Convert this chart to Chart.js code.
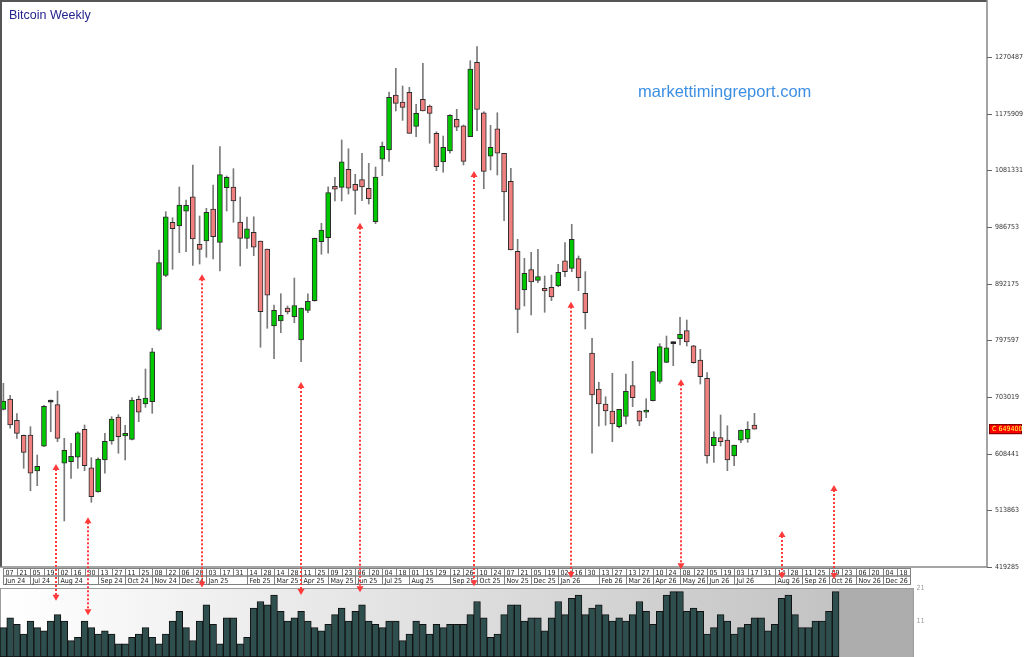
<!DOCTYPE html>
<html>
<head>
<meta charset="utf-8">
<title>Bitcoin Weekly</title>
<script src="https://cdn.jsdelivr.net/npm/chart.js@4.4.1/dist/chart.umd.min.js"></script>
<style>
  html, body { margin: 0; padding: 0; background: #fff; overflow: hidden; }
  #wrap { position: relative; width: 1024px; height: 657px; }
</style>
</head>
<body>
<div id="wrap"><canvas id="btc" width="1024" height="657"></canvas></div>
<script>
// weekly candles, one per week starting 07 Jun 24
const opens = [682500,699700,664100,639100,639600,579500,620800,694500,690200,592400,595000,602400,649100,585000,544500,597900,629600,669600,637900,632400,699200,691300,695200,816000,906100,994600,988400,1013000,1037300,957900,963400,1016800,961200,1052400,1053500,995100,967900,977900,963400,950000,821500,829900,851600,837100,798200,847700,863800,962200,968900,1054700,1053000,1083100,1058000,1065700,1051400,995600,1099800,1115300,1207100,1195400,1211600,1154800,1199900,1188700,1143100,1095200,1113600,1166500,1155800,1137500,1261600,1177500,1104800,1150800,1109800,1063000,946200,881600,915500,897800,884500,886100,888300,930500,917800,933900,876100,776500,716400,691300,679700,653500,670800,721900,679700,677500,696800,729200,760900,792000,800300,813700,788600,764800,734200,621800,635100,631200,604600,630800,632900,656300];
const highs = [725900,705900,675200,639600,653500,606200,689200,698000,713000,634100,625800,645100,656300,601700,601700,642400,670200,673500,655800,701900,704700,749800,784300,948400,1012300,1002300,1053500,1031800,1090200,1005100,1018000,1056900,1120800,1071900,1084100,1036800,1003400,1003900,963400,950000,856600,875400,854900,901600,851600,875400,968400,992900,1054000,1069700,1132000,1117400,1074700,1109800,1093100,1086900,1128600,1212100,1251600,1222100,1219900,1191500,1260000,1190400,1145800,1138600,1174200,1183200,1157000,1264300,1287700,1179200,1156500,1177500,1109800,1084700,966200,934500,944500,949500,905000,906600,924500,960600,991300,938400,912200,801000,727600,703500,742600,682500,741400,762600,680200,700200,745900,792000,804800,795300,836000,831500,789300,782600,743600,645100,673000,655100,622900,648000,661800,675800];
const lows = [681300,650800,634100,584000,546600,555000,620100,645100,628400,496100,567300,584000,580000,527300,544000,575700,624100,609100,597900,631200,661800,685800,675800,813200,903800,916200,943900,945500,922800,925000,936200,933300,913300,1013500,994600,921700,951200,938900,786000,817700,767000,810300,841600,827000,761900,843700,862800,941200,942900,1030200,1030200,1041800,1008000,1030700,1025100,992300,1072400,1096400,1180400,1164800,1143100,1137500,1180400,1126500,1080700,1078100,1109800,1147500,1090200,1137500,1147500,1050700,1081900,1073500,997300,948400,810300,854900,839900,893800,844400,863800,887100,903800,912200,880400,816500,609100,654600,655800,628400,651300,658000,686800,655100,668500,696300,725900,760300,755300,789800,788100,759300,724700,592400,594000,621200,580000,588400,626700,627400,649400];
const closes = [696400,656300,642400,610700,575700,587400,687500,694500,634100,614100,604100,643400,588400,536600,599500,629100,666300,636800,642400,698000,677500,701400,778600,927200,1003900,983900,1023500,1023000,966700,949500,1011300,970600,1074100,1069700,1030200,967900,983900,952900,845400,872800,847700,839400,844900,855400,851600,862800,967900,981800,1044000,1049700,1095700,1051400,1048000,1053500,1034000,1070200,1121400,1203200,1193200,1186500,1143100,1176500,1180400,1176500,1087400,1119800,1173200,1153200,1096400,1250500,1183200,1079700,1119800,1109800,1045200,948400,849400,909500,895000,903800,879900,869900,911200,912200,966200,902100,843700,706400,691300,679700,658000,682500,712500,701900,662500,681300,745300,787000,785300,792000,807700,794800,760300,736900,604600,635800,628400,597900,622900,648000,649100,649400];
// lower panel histogram
const volumes = [9,12,10,7,11,9,8,11,13,11,5,6,11,9,7,8,7,4,4,6,7,9,6,4,7,11,14,9,5,11,16,10,4,12,12,4,6,15,17,16,19,14,11,12,14,11,9,8,10,13,15,11,14,16,11,10,9,11,11,5,7,11,10,7,10,9,10,10,10,13,17,12,6,7,13,16,16,11,12,12,8,12,17,13,18,19,13,15,16,13,11,12,11,13,17,14,10,14,19,20,20,14,15,14,7,9,13,11,7,9,10,12,12,8,10,18,19,13,9,9,11,11,14,20];

const priceTicks = [419285,513863,608441,703019,797597,892175,986753,1081331,1175909,1270487];
const volumeTicks = [21, 11];
const lastPrice = 649400;
// bi-weekly axis labels (every second week)
const tickDates = ['07 Jun 24','21 Jun 24','05 Jul 24','19 Jul 24','02 Aug 24','16 Aug 24','30 Aug 24','13 Sep 24','27 Sep 24','11 Oct 24','25 Oct 24','08 Nov 24','22 Nov 24','06 Dec 24','20 Dec 24',
  '03 Jan 25','17 Jan 25','31 Jan 25','14 Feb 25','28 Feb 25','14 Mar 25','28 Mar 25','11 Apr 25','25 Apr 25','09 May 25','23 May 25','06 Jun 25','20 Jun 25','04 Jul 25','18 Jul 25','01 Aug 25','15 Aug 25','29 Aug 25','12 Sep 25','26 Sep 25','10 Oct 25','24 Oct 25','07 Nov 25','21 Nov 25','05 Dec 25','19 Dec 25',
  '02 Jan 26','16 Jan 26','30 Jan 26','13 Feb 26','27 Feb 26','13 Mar 26','27 Mar 26','10 Apr 26','24 Apr 26','08 May 26','22 May 26','05 Jun 26','19 Jun 26','03 Jul 26','17 Jul 26','31 Jul 26','14 Aug 26','28 Aug 26','11 Sep 26','25 Sep 26','09 Oct 26','23 Oct 26','06 Nov 26','20 Nov 26','04 Dec 26','18 Dec 26'];
// red dotted markers: week position, price at top tip, lower-panel value at bottom tip
const arrowWeeks = [7.8, 12.5, 29.3, 44.0, 52.7, 69.6, 83.9, 100.2, 115.1, 122.7];
const arrowTops = [591200, 502200, 907800, 728100, 993900, 1080200, 862100, 732600, 479400, 556200];
const arrowEnds = [17.2, 12.8, 21.3, 19.0, 19.8, 21.7, 24.2, 26.9, 24.0, 23.9];

const GREEN = '#00c800', RED = '#f08080';
const SMALL = '7px "Liberation Sans Narrow", "DejaVu Sans Condensed", "Liberation Sans", sans-serif';
const panelEndWeek = 134.5;

function candleColor(i) {
  if (closes[i] > opens[i]) return GREEN;
  if (closes[i] < opens[i]) return RED;
  return '#000';
}

const decorations = {
  id: 'decorations',
  beforeDatasetsDraw(chart) {
    const {ctx, chartArea, scales: {x, yv}} = chart;
    const top = Math.round(yv.getPixelForValue(21)) + 0.5;
    const bottom = chartArea.bottom;
    const barsEnd = x.getPixelForValue(volumes.length - 0.5);
    const panelEnd = x.getPixelForValue(panelEndWeek);
    ctx.save();
    const g = ctx.createLinearGradient(0, 0, barsEnd, 0);
    g.addColorStop(0, '#ffffff');
    g.addColorStop(1, '#c3c3c3');
    ctx.fillStyle = g;
    ctx.fillRect(0, top, barsEnd, bottom - top);
    ctx.fillStyle = '#adadad';
    ctx.fillRect(barsEnd, top, panelEnd - barsEnd, bottom - top);
    ctx.strokeStyle = '#9c9c9c';
    ctx.lineWidth = 1;
    ctx.strokeRect(0.5, top, panelEnd - 0.5, bottom - top + 2);
    ctx.restore();
  },
  afterDatasetsDraw(chart) {
    const {ctx, chartArea, scales: {x, y, yv}} = chart;
    const fb = Math.round(y.getPixelForValue(priceTicks[0]));
    ctx.save();

    // frame of the price window
    ctx.strokeStyle = '#555';
    ctx.lineWidth = 2;
    ctx.beginPath();
    ctx.moveTo(1, fb); ctx.lineTo(1, 1); ctx.lineTo(chartArea.right, 1);
    ctx.stroke();
    ctx.strokeStyle = '#888';
    ctx.lineWidth = 1.5;
    ctx.beginPath();
    ctx.moveTo(chartArea.right, 0); ctx.lineTo(chartArea.right, fb);
    ctx.moveTo(0, fb); ctx.lineTo(chartArea.right, fb);
    ctx.stroke();

    // price axis
    ctx.font = SMALL;
    ctx.textBaseline = 'middle';
    ctx.lineWidth = 1;
    priceTicks.forEach(v => {
      const py = Math.round(y.getPixelForValue(v)) + 0.5;
      ctx.strokeStyle = '#666';
      ctx.beginPath(); ctx.moveTo(chartArea.right, py); ctx.lineTo(chartArea.right + 5, py); ctx.stroke();
      ctx.fillStyle = '#333';
      ctx.fillText(String(v), chartArea.right + 8, py);
    });

    // last price tag
    const lp = y.getPixelForValue(lastPrice);
    ctx.fillStyle = '#ff0000';
    ctx.fillRect(chartArea.right + 2, lp - 5, 33, 10);
    ctx.strokeStyle = '#7a0000';
    ctx.strokeRect(chartArea.right + 2.5, lp - 4.5, 32, 9);
    ctx.fillStyle = '#ffff40';
    ctx.fillText('C ' + lastPrice, chartArea.right + 5, lp + 0.5);

    // date strip
    const r1 = fb + 1.5, r2 = fb + 9, r3 = fb + 17.5;
    const tickPx = k => x.getPixelForValue(2 * k);
    ctx.strokeStyle = '#808080';
    ctx.fillStyle = '#222';
    ctx.textBaseline = 'middle';
    let monthStart = 0;
    tickDates.forEach((d, k) => {
      const px = Math.round(tickPx(k)) + 0.5;
      const nx = Math.round(tickPx(k + 1)) + 0.5;
      ctx.strokeRect(px, r1, nx - px, r2 - r1);
      ctx.fillText(d.slice(0, 2), px + 2, (r1 + r2) / 2 + 0.5);
      const month = d.slice(3);
      const next = tickDates[k + 1];
      if (!next || next.slice(3) !== month) {
        const sx = Math.round(tickPx(monthStart)) + 0.5;
        ctx.strokeRect(sx, r2, nx - sx, r3 - r2);
        ctx.fillText(month, sx + 2, (r2 + r3) / 2 + 0.5);
        monthStart = k + 1;
      }
    });

    // lower panel scale labels
    ctx.fillStyle = '#999';
    const panelEnd = x.getPixelForValue(panelEndWeek);
    volumeTicks.forEach(v => ctx.fillText(String(v), panelEnd + 3, yv.getPixelForValue(v)));

    // red dotted markers
    ctx.strokeStyle = '#ff3a3a';
    ctx.fillStyle = '#ff3a3a';
    arrowWeeks.forEach((w, i) => {
      const ax = Math.round(x.getPixelForValue(w));
      const ty = y.getPixelForValue(arrowTops[i]);
      const by = yv.getPixelForValue(arrowEnds[i]);
      ctx.lineWidth = 2;
      ctx.setLineDash([2, 2]);
      ctx.beginPath(); ctx.moveTo(ax, ty + 5); ctx.lineTo(ax, by - 5); ctx.stroke();
      ctx.setLineDash([]);
      ctx.beginPath(); ctx.moveTo(ax, ty); ctx.lineTo(ax - 3.5, ty + 6); ctx.lineTo(ax + 3.5, ty + 6); ctx.closePath(); ctx.fill();
      ctx.beginPath(); ctx.moveTo(ax, by); ctx.lineTo(ax - 3.5, by - 6); ctx.lineTo(ax + 3.5, by - 6); ctx.closePath(); ctx.fill();
    });

    // texts
    ctx.textBaseline = 'alphabetic';
    ctx.font = '12.5px "Liberation Sans", Arial, sans-serif';
    ctx.fillStyle = '#23238e';
    ctx.fillText('Bitcoin Weekly', 9, 19);
    ctx.font = '16.5px "Liberation Sans", Arial, sans-serif';
    ctx.fillStyle = '#3d8fe3';
    ctx.fillText('markettimingreport.com', 638, 97);
    ctx.restore();
  }
};

const idx = opens.map((_, i) => i);

new Chart(document.getElementById('btc').getContext('2d'), {
  type: 'bar',
  data: {
    datasets: [
      {
        label: 'body',
        order: 0,
        yAxisID: 'y',
        data: idx.map(i => ({x: i, y: [opens[i], closes[i]]})),
        backgroundColor: idx.map(candleColor),
        borderColor: '#2b2b2b',
        borderWidth: 1,
        borderSkipped: false,
        barThickness: 5,
        minBarLength: 2,
        grouped: false
      },
      {
        label: 'wick',
        order: 1,
        yAxisID: 'y',
        data: idx.map(i => ({x: i, y: [lows[i], highs[i]]})),
        backgroundColor: '#7a7a7a',
        borderWidth: 0,
        barThickness: 1,
        grouped: false
      },
      {
        label: 'panel',
        order: 2,
        yAxisID: 'yv',
        data: volumes.map((v, i) => ({x: i, y: v})),
        backgroundColor: '#2f4f4f',
        borderColor: '#111',
        borderWidth: 1,
        borderSkipped: false,
        barThickness: 6.77,
        grouped: false
      }
    ]
  },
  options: {
    responsive: false,
    animation: false,
    layout: { padding: { left: 0, top: 0, bottom: 0, right: 37 } },
    plugins: { legend: { display: false }, tooltip: { enabled: false } },
    scales: {
      x: { type: 'linear', display: false, offset: false, min: -0.5, max: 145.37 },
      y: { display: false, min: 269087, max: 1365620 },
      yv: { display: false, min: 0, max: 201.2 }
    }
  },
  plugins: [decorations]
});
</script>
</body>
</html>
